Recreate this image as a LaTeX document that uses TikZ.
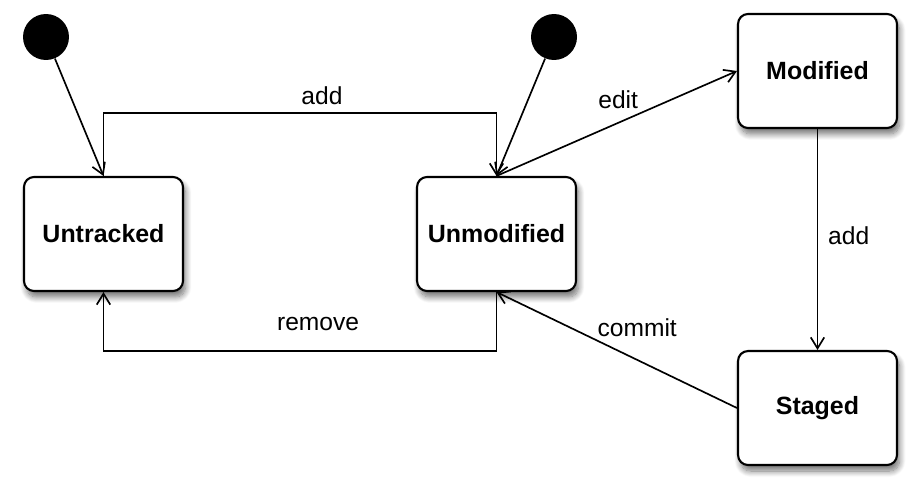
\documentclass[tikz,border=0pt]{standalone}
\usepackage{fontspec}
\setmainfont{Liberation Sans}
\usepackage{tikz}
\usetikzlibrary{arrows.meta, positioning, shadows.blur}

\begin{document}
\begin{tikzpicture}[x=0.02cm, y=-0.02cm,
    state/.style={draw, line width=1.2pt, fill=white, rounded corners=0.2cm,
        minimum width=3.18cm, minimum height=2.28cm,
        font=\fontsize{14.2}{16}\selectfont\bfseries,
        blur shadow={shadow xshift=0.05cm, shadow yshift=-0.12cm, shadow blur radius=0.12cm, shadow blur steps=10, shadow opacity=55}},
    initial/.style={circle, fill=black, minimum size=0.92cm, inner sep=0pt},
    flow/.style={line width=0.95pt, -{Straight Barb[length=0.22cm, width=0.27cm]}},
    lbl/.style={font=\fontsize{14}{16}\selectfont}]
    \useasboundingbox (0,0) rectangle (918,497);
    % States
    \node[state] (untracked) at (103.5,234) {Untracked};
    \node[state] (unmodified) at (496.5,234) {Unmodified};
    \node[state] (modified) at (817.5,71) {Modified};
    \node[state] (staged) at (817.5,408) {Staged};
    % Start points
    \node[initial] (startA) at (46,37) {};
    \node[initial] (startB) at (554,37) {};
    % Corners of the elbow connectors
    \coordinate (addL) at (103.5,113);
    \coordinate (addR) at (496.5,113);
    \coordinate (remR) at (496.5,351);
    \coordinate (remL) at (103.5,351);
    % Transitions
    \draw[flow] (startA) -- (untracked.north);
    \draw[flow] (startB) -- (unmodified.north);
    \draw[flow] (untracked.north) -- (addL) -- node[lbl, above=0.04cm, pos=0.556] {add} (addR) -- (unmodified.north);
    \draw[flow] (unmodified.south) -- (remR) -- node[lbl, above=0.28cm, pos=0.454] {remove} (remL) -- (untracked.south);
    \draw[flow] (unmodified.north) -- node[lbl, above=0.14cm, pos=0.506] {edit} (modified.west);
    \draw[flow] (modified.south) -- node[lbl, right=0.08cm, yshift=0.08cm] {add} (staged.north);
    \draw[flow] (staged.west) -- node[lbl, above=0.32cm, pos=0.415] {commit} (unmodified.south);
\end{tikzpicture}
\end{document}
